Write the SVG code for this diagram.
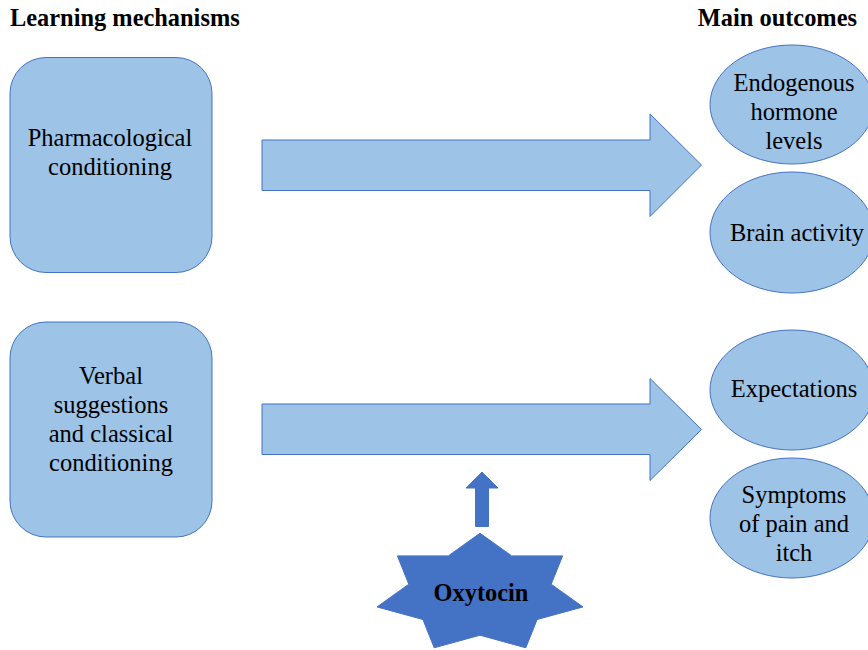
<svg xmlns="http://www.w3.org/2000/svg" width="868" height="650" viewBox="0 0 868 650">
<style>
.t{font-family:'Liberation Serif','Times New Roman',serif;font-size:24.5px;text-anchor:middle;fill:#000}
.h{font-family:'Liberation Serif','Times New Roman',serif;font-size:24.4px;font-weight:bold;fill:#000}
.box{fill:#9DC3E6;stroke:#4472C4;stroke-width:1}
.ell{fill:#9DC3E6;stroke:#4472C4;stroke-width:1}
.arr{fill:#9DC3E6;stroke:#4472C4;stroke-width:1}
.dark{fill:#4472C4;stroke:#4472C4;stroke-width:1}
</style>
<rect width="868" height="650" fill="#fff"/>
<text class="h" x="10" y="26">Learning mechanisms</text>
<text class="h" x="857" y="26" text-anchor="end">Main outcomes</text>

<g id="pharmacological">
<rect class="box" x="10" y="57.5" width="202" height="215" rx="36"/>
<text class="t" x="110" y="146">Pharmacological</text>
<text class="t" x="110" y="175">conditioning</text>
</g>
<g id="verbal">
<rect class="box" x="10" y="322" width="202" height="215" rx="36"/>
<text class="t" x="111" y="384">Verbal</text>
<text class="t" x="111" y="413">suggestions</text>
<text class="t" x="111" y="442">and classical</text>
<text class="t" x="111" y="471">conditioning</text>
</g>

<g id="endogenous">
<ellipse class="ell" cx="792" cy="104.5" rx="82" ry="59.5"/>
<text class="t" x="794" y="91">Endogenous</text>
<text class="t" x="794" y="119.5">hormone</text>
<text class="t" x="794" y="148.5">levels</text>
</g>
<g id="brain">
<ellipse class="ell" cx="792" cy="232.5" rx="82" ry="60.5"/>
<text class="t" x="797" y="241">Brain activity</text>
</g>
<g id="expectations">
<ellipse class="ell" cx="792" cy="390" rx="82" ry="60"/>
<text class="t" x="794" y="397">Expectations</text>
</g>
<g id="symptoms">
<ellipse class="ell" cx="792" cy="518" rx="82" ry="60"/>
<text class="t" x="794" y="503">Symptoms</text>
<text class="t" x="794" y="532">of pain and</text>
<text class="t" x="794" y="561">itch</text>
</g>

<g id="oxytocin">
<polygon class="dark" points="480,533.2 511.7,555.9 562.6,555.9 551.2,584.2 583,606.9 537.1,619.5 525.8,647.8 480,635.2 434.2,647.8 422.9,619.5 377,606.9 408.8,584.2 397.4,555.9 448.3,555.9"/>
<text class="h" x="481" y="601" text-anchor="middle">Oxytocin</text>
</g>

<g id="connectors">
<polygon class="arr" points="262,140 650,140 650,114 701.5,165 650,216.5 650,190.5 262,190.5"/>
<polygon class="arr" points="262,404 650,404 650,378.5 701.5,429.5 650,480.5 650,454.5 262,454.5"/>
<polygon class="dark" points="482,472 498,488 488.5,488 488.5,526.5 475.5,526.5 475.5,488 466,488"/>
</g>
</svg>
